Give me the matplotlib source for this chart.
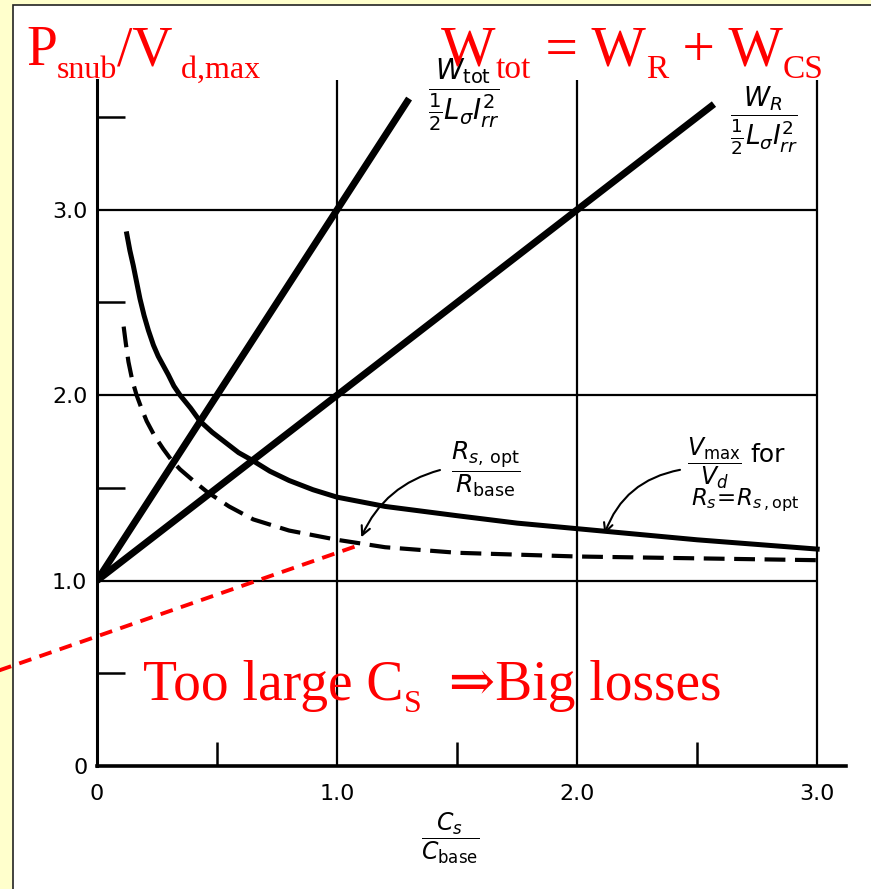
import matplotlib
matplotlib.use("Agg")
import matplotlib.pyplot as plt
from matplotlib.patches import Rectangle
from matplotlib.transforms import IdentityTransform

# straight energy lines, both start at (0, 1)
cs_tot = [0.0, 1.30]
w_tot = [1.0, 3.60]
cs_r = [0.0, 2.57]
w_r = [1.0, 3.57]

# Vmax/Vd for Rs = Rs,opt (solid curve)
cs_vmax = [0.124, 0.137, 0.151, 0.165, 0.179, 0.196, 0.214, 0.235, 0.255, 0.276,
           0.297, 0.32, 0.346, 0.39, 0.429, 0.48, 0.54, 0.59, 0.645, 0.72,
           0.80, 0.90, 1.00, 1.20, 1.50, 1.75, 2.00, 2.50, 3.00]
vmax = [2.87, 2.78, 2.70, 2.61, 2.52, 2.43, 2.35, 2.27, 2.21, 2.16,
        2.11, 2.05, 2.00, 1.93, 1.86, 1.80, 1.74, 1.69, 1.65, 1.59,
        1.54, 1.49, 1.45, 1.40, 1.35, 1.31, 1.28, 1.22, 1.17]

# Rs,opt / Rbase (dashed curve)
cs_rs = [0.111, 0.12, 0.131, 0.147, 0.165, 0.185, 0.207, 0.24, 0.276, 0.31,
         0.346, 0.40, 0.457, 0.55, 0.651, 0.80, 1.00, 1.20, 1.50, 2.00,
         2.50, 3.00]
rs_opt = [2.37, 2.28, 2.18, 2.08, 2.00, 1.93, 1.86, 1.78, 1.71, 1.65,
          1.60, 1.54, 1.48, 1.40, 1.33, 1.27, 1.22, 1.18, 1.15, 1.13,
          1.12, 1.11]

# red trend line (runs off the left side of the plot)
cs_red = [-0.42, 1.10]
red_y = [0.51, 1.195]

x_major = [0, 1, 2, 3]
x_labels = ["0", "1.0", "2.0", "3.0"]
y_major = [0, 1, 2, 3]
y_labels = ["0", "1.0", "2.0", "3.0"]
x_minor = [0.5, 1.5, 2.5]
y_minor = [0.5, 1.5, 2.5, 3.5]

fig = plt.figure(figsize=(8.71, 8.89), dpi=100)
fig.patch.set_facecolor("#FFFFCC")
# white page with dark edge on top/left
fig.patches.append(Rectangle((13 / 871, -0.01), 1.0, 1.01 - 5 / 889, transform=fig.transFigure,
                             facecolor="white", edgecolor="#222222", lw=1.2, zorder=-5))

ax = fig.add_axes([97 / 871, 123 / 889, 749 / 871, 686 / 889])
ax.set_facecolor("none")
ax.set_xlim(0, 3.12)
ax.set_ylim(0, 3.70)
for s in ["top", "right"]:
    ax.spines[s].set_visible(False)
ax.spines["left"].set_linewidth(2.2)
ax.spines["bottom"].set_linewidth(2.6)

# grid
ax.hlines(y_major[1:], 0, 3, colors="black", lw=1.6)
ax.vlines(x_major[1:], 0, 3.70, colors="black", lw=1.6)

ax.set_xticks(x_major)
ax.set_xticklabels(x_labels)
ax.set_yticks(y_major)
ax.set_yticklabels(y_labels)
ax.set_xticks(x_minor, minor=True)
ax.set_yticks(y_minor, minor=True)
ax.tick_params(which="major", length=0, labelsize=16)
ax.tick_params(axis="x", which="major", pad=13)
ax.tick_params(axis="y", which="major", pad=7)
ax.tick_params(which="minor", direction="in", width=1.8)
ax.tick_params(axis="y", which="minor", length=20)
ax.tick_params(axis="x", which="minor", length=17)

ax.plot(cs_tot, w_tot, color="black", lw=5, solid_capstyle="butt")
ax.plot(cs_r, w_r, color="black", lw=5, solid_capstyle="butt")
ax.plot(cs_vmax, vmax, color="black", lw=3.6, solid_joinstyle="round")
ax.plot(cs_rs, rs_opt, color="black", lw=3, dashes=(5, 2.3))
ax.plot(cs_red, red_y, color="red", lw=2.8, dashes=(3.3, 2.2), clip_on=False, zorder=5)

# curve labels
lab = dict(ha="center", va="center", color="black", math_fontfamily="dejavusans")
ax.text(1.53, 3.62, r"$\dfrac{W_{\mathrm{tot}}}{\frac{1}{2}L_\sigma I_{rr}^{2}}$", fontsize=20, **lab)
ax.text(2.78, 3.48, r"$\dfrac{W_R}{\frac{1}{2}L_\sigma I_{rr}^{2}}$", fontsize=19, **lab)
ax.text(1.62, 1.60, r"$\dfrac{R_{s,\,\mathrm{opt}}}{R_{\mathrm{base}}}$", fontsize=18, **lab)
ax.text(2.57, 1.635, r"$\dfrac{V_{\mathrm{max}}}{V_d}$", fontsize=17, **lab)
ax.text(2.72, 1.68, "for", fontsize=18, ha="left", va="center")
ax.text(2.70, 1.435, r"$R_s\!=\!R_{s\,,\mathrm{opt}}$", fontsize=16.5, **lab)
ax.text(1.47, -0.39, r"$\dfrac{C_s}{C_{\mathrm{base}}}$", fontsize=17, **lab)

arrow = dict(arrowstyle="->", color="black", lw=1.5, mutation_scale=16)
ax.annotate("", xy=(1.096, 1.22), xytext=(1.44, 1.60),
            arrowprops=dict(connectionstyle="arc3,rad=0.25", **arrow))
ax.annotate("", xy=(2.11, 1.236), xytext=(2.44, 1.60),
            arrowprops=dict(connectionstyle="arc3,rad=0.3", **arrow))

# red overlay text, written piece by piece so the subscripts sit low like the slide
renderer = fig.canvas.get_renderer()
H = 889


def red_run(x, base, parts):
    for s, size, drop in parts:
        t = fig.text(x, H - base - drop, s, transform=IdentityTransform(), color="red",
                     fontsize=size, va="baseline", family=["Liberation Serif", "DejaVu Serif"])
        x = t.get_window_extent(renderer).x1


red_run(26, 65, [("P", 40, 0), ("snub", 23, 13), ("/V", 40, 0), (" d,max", 23, 13)])
red_run(441, 65, [("W", 41.5, 0), ("tot", 24, 13), (" = W", 41.5, 0), ("R", 24, 13),
                  (" + W", 41.5, 0), ("CS", 24, 13)])
red_run(143, 700, [("Too large C", 40, 0), ("S", 23, 12), ("  \u21d2Big losses", 40, 0)])

fig.savefig("out.png", dpi=100, facecolor=fig.get_facecolor())
